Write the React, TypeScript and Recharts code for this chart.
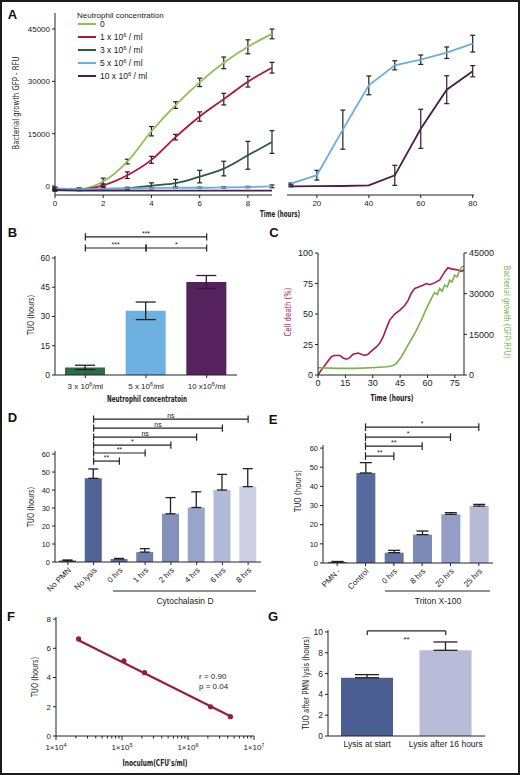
import type { ReactNode } from "react";
import {
  Bar,
  BarChart,
  Cell,
  ComposedChart,
  ErrorBar,
  Line,
  LineChart,
  ReferenceLine,
  Scatter,
  XAxis,
  YAxis,
} from "recharts";

const SANS = "'Liberation Sans', Arial, Helvetica, sans-serif";
const NARROW = "'Liberation Sans Narrow', 'DejaVu Sans Condensed', 'Liberation Sans', sans-serif";
const INK = "#222";

// A - bacterial growth (GFP RFU) per neutrophil concentration
const concLabels = ["0", "1 x 10^6 / ml", "3 x 10^6 / ml", "5 x 10^6 / ml", "10 x 10^6 / ml"];
const concColors = ["#8cc251", "#b3123e", "#2e5b3c", "#6aaee0", "#4b1a4f"];

const earlyHours = [0, 1, 2, 3, 4, 5, 6, 7, 8, 9];
const growthNone = [-800, -900, 1300, 7000, 15700, 23200, 29700, 35300, 39900, 43600];
const growthNoneErr = [300, 300, 950, 670, 1340, 950, 1200, 1670, 2000, 1400];
const growth1 = [-1000, -1000, 200, 3100, 7500, 14000, 19900, 24900, 29900, 33900];
const growth1Err = [300, 300, 400, 950, 1000, 800, 1340, 1670, 1530, 1530];
const growth3 = [-1000, -1000, -800, -660, 100, 800, 2700, 5000, 8800, 12600];
const growth3Err = [300, 300, 300, 300, 800, 1100, 1800, 2100, 4000, 3250];
const growth5 = [-700, -900, -800, -700, -600, -500, -500, -400, -300, -100];
const growth5Err = [400, 200, 200, 200, 200, 200, 200, 200, 200, 400];
const growth10 = [-1200, -1300, -1300, -1300, -1300, -1300, -1300, -1300, -1300, -1300];
const growth10Err = [300, 0, 0, 0, 0, 0, 0, 0, 0, 0];

const lateHours = [10, 20, 30, 40, 50, 60, 70, 80];
const late5 = [670, 3100, 16150, 28850, 34600, 36200, 38200, 40800];
const late5Err = [200, 1400, 5600, 2700, 1300, 1350, 1650, 2400];
const late10 = [-100, -50, 0, 200, 3060, 16400, 27600, 32900];
const late10Err = [150, 0, 0, 0, 2870, 5600, 4000, 1600];

// B - time until outgrowth
const bLabels = ["3 x 10^6/ml", "5 x 10^6/ml", "10 x10^6/ml"];
const bTuo = [3.9, 32.9, 47.7];
const bErr = [1.1, 4.5, 3.3];
const bColors = ["#2f6a49", "#6db0e2", "#55225d"];

// C - cell death vs bacterial growth over time
const deathHours = [0, 1.8, 4.5, 7.3, 9, 12, 13.7, 15.5, 17.3, 19.2, 22, 23.7, 25.6, 27.4, 29.2, 32, 33.8, 35.6, 37.4, 39.3, 42, 44.7, 47.5, 49.3, 51.1, 53, 54.8, 57.5, 59.4, 61.2, 63.9, 66.7, 69.4, 71.2, 73, 74.8, 76.7, 78.5, 80];
const deathPct = [0, 4, 9.5, 15, 16, 16, 14, 13, 14, 17, 18, 17, 16, 17, 19.6, 23, 26, 31, 38, 45, 50, 53, 57, 61, 67, 71, 72, 73.5, 75, 74, 75.5, 78, 84.5, 88, 87, 86.6, 86, 85, 86];
const gfpHours = [0, 11, 20, 29, 38, 41, 43, 45.7, 49.3, 53, 56.6, 59.4, 61.2, 63, 63.9, 65.4, 66.7, 68, 69.4, 70.9, 72.1, 73.4, 74.8, 76.3, 77.6, 78.9, 80];
const gfpRfu = [2700, 2450, 2450, 2700, 3070, 3430, 4300, 6750, 11000, 15300, 20200, 24500, 27000, 29400, 30400, 29700, 31900, 30900, 33100, 32500, 34900, 34300, 36800, 36200, 38600, 39900, 40200];
const deathColor = "#b0174a";
const gfpColor = "#78b347";

// D - cytochalasin D
const dLabels = ["No PMN", "No lysis", "0 hrs", "1 hrs", "2 hrs", "4 hrs", "6 hrs", "8 hrs"];
const dTuo = [0.8, 46.5, 1.7, 5.5, 26.8, 30.3, 40, 41.9];
const dErr = [0.3, 5.2, 0.3, 1.9, 9, 8.7, 8.7, 10];
const dColors = ["#3d4f80", "#4f6396", "#5a6d9f", "#6d7eaf", "#8392bd", "#98a4ca", "#b1bad8", "#cacfe5"];

// E - Triton X-100
const eLabels = ["PMN -", "Control", "0 hrs", "8 hrs", "20 hrs", "25 hrs"];
const eTuo = [0.5, 47, 5.4, 14.8, 25.4, 29.7];
const eErr = [0.3, 5.4, 1.2, 1.9, 0.9, 0.9];
const eColors = ["#3d4f80", "#566a9e", "#6475a6", "#7d8cb6", "#939dc6", "#b4bad8"];

// F - inoculum vs TUO
const inoculum = [2.2e4, 1.07e5, 2.2e5, 2.2e6, 4.4e6];
const fTuo = [6.64, 5.14, 4.33, 2.0, 1.32];
const fitInoculum = [2.2e4, 4.4e6];
const fitTuo = [6.55, 1.35];
const fColor = "#9b1b3b";

// G - lysis timing
const gLabels = ["Lysis at start", "Lysis after 16 hours"];
const gTuo = [5.6, 8.24];
const gErr = [0.3, 0.8];
const gColors = ["#4b5e91", "#b8bcd8"];

type Sig = { from: number; to: number; at: number; text: string };
const bSig: Sig[] = [
  { from: 0, to: 2, at: 70.8, text: "***" },
  { from: 0, to: 1, at: 65.1, text: "***" },
  { from: 1, to: 2, at: 65.1, text: "*" },
];
const dSig: Sig[] = [
  { from: 1, to: 2, at: 56.1, text: "**" },
  { from: 1, to: 3, at: 60.6, text: "**" },
  { from: 1, to: 4, at: 65, text: "*" },
  { from: 1, to: 5, at: 69.4, text: "ns" },
  { from: 1, to: 6, at: 74.4, text: "ns" },
  { from: 1, to: 7, at: 79.4, text: "ns" },
];
const eSig: Sig[] = [
  { from: 1, to: 2, at: 55.8, text: "**" },
  { from: 1, to: 3, at: 61, text: "**" },
  { from: 1, to: 4, at: 65.7, text: "*" },
  { from: 1, to: 5, at: 70.9, text: "*" },
];
const gSig: Sig[] = [{ from: 0, to: 1, at: 10.1, text: "**" }];

const earlyRows = earlyHours.map((h, i) => ({
  h,
  g0: growthNone[i], g0e: growthNoneErr[i],
  g1: growth1[i], g1e: growth1Err[i],
  g3: growth3[i], g3e: growth3Err[i],
  g5: growth5[i], g5e: growth5Err[i],
  g10: growth10[i], g10e: growth10Err[i],
}));
const lateRows = lateHours.map((h, i) => ({ h, g5: late5[i], g5e: late5Err[i], g10: late10[i], g10e: late10Err[i] }));
const earlyKeys = ["g0", "g1", "g3", "g5", "g10"];
const deathRows = deathHours.map((t, i) => ({ t, v: deathPct[i] }));
const gfpRows = gfpHours.map((t, i) => ({ t, v: gfpRfu[i] }));
const bRows = bLabels.map((name, i) => ({ name, v: bTuo[i], e: bErr[i] }));
const dRows = dLabels.map((name, i) => ({ name, v: dTuo[i], e: [0, dErr[i]] }));
const eRows = eLabels.map((name, i) => ({ name, v: eTuo[i], e: [0, eErr[i]] }));
const gRows = gLabels.map((name, i) => ({ name, v: gTuo[i], e: [0, gErr[i]] }));
const fPoints = inoculum.map((x, i) => ({ x, y: fTuo[i] }));
const fFit = fitInoculum.map((x, i) => ({ x, y: fitTuo[i] }));
const logTicks = [1e4, 1e5, 1e6].flatMap((d) => [1, 2, 3, 4, 5, 6, 7, 8, 9].map((m) => m * d)).concat([1e7]);

type Plot = { x0: number; x1: number; y0: number; y1: number };
type Pad = { l: number; r: number; t: number; b: number };

function box(p: Plot, pad: Pad) {
  return {
    pad,
    style: { position: "absolute" as const, left: p.x0 - pad.l, top: p.y0 - pad.t },
    width: p.x1 - p.x0 + pad.l + pad.r,
    height: p.y1 - p.y0 + pad.t + pad.b,
    margin: { top: pad.t, right: pad.r, bottom: 0, left: 0 },
  };
}

const axis = (fs: number) => ({
  stroke: INK,
  tickSize: 3,
  tickMargin: 2,
  tick: { fontSize: fs, fill: INK, fontFamily: SANS },
});

function sup(s: string) {
  const parts = s.split(/\^(\d)/);
  return parts.map((p, i) =>
    i % 2 ? (
      <tspan key={i} dy={-3} fontSize="70%">{p}</tspan>
    ) : (
      <tspan key={i} dy={i ? 3 : 0}>{p}</tspan>
    ),
  );
}

function SupTick(props: any) {
  const { x, y, payload } = props;
  return (
    <text x={x} y={y + 9} textAnchor="middle" fontSize={8} fill={INK} fontFamily={SANS}>
      {sup(payload.value)}
    </text>
  );
}

function SlantTick(props: any) {
  const { x, y, payload } = props;
  const ax = x + 2;
  const ay = y + 2;
  return (
    <text x={ax} y={ay} transform={`rotate(-45 ${ax} ${ay})`} textAnchor="end" dominantBaseline="central" fontSize={8} fill={INK} fontFamily={SANS}>
      {payload.value}
    </text>
  );
}

function LogTick(props: any) {
  const { x, y, payload } = props;
  const exp = Math.log10(payload.value);
  const major = Math.abs(exp - Math.round(exp)) < 1e-6;
  return (
    <g>
      <line x1={x} x2={x} y1={y} y2={y + (major ? 4 : 2.5)} stroke={INK} />
      {major && (
        <text x={x} y={y + 14} textAnchor="middle" fontSize={8} fill={INK} fontFamily={SANS}>
          {sup(`1×10^${Math.round(exp)}`)}
        </text>
      )}
    </g>
  );
}

function brackets(sig: Sig[], cats: string[], cap: number, fs: number, below = false): ReactNode[] {
  const line = { stroke: INK, strokeWidth: 1.2, ifOverflow: "visible" as const };
  return sig.flatMap((s, i) => {
    const a = cats[s.from];
    const b = cats[s.to];
    return [
      <ReferenceLine
        key={`h${i}`}
        segment={[{ x: a, y: s.at }, { x: b, y: s.at }]}
        {...line}
        label={{ value: s.text, position: below ? "bottom" : "top", offset: below ? 5 : 1, fontSize: fs, fill: INK, fontFamily: SANS }}
      />,
      <ReferenceLine key={`a${i}`} segment={[{ x: a, y: s.at - cap }, { x: a, y: s.at + (below ? 0 : cap) }]} {...line} />,
      <ReferenceLine key={`b${i}`} segment={[{ x: b, y: s.at - cap }, { x: b, y: s.at + (below ? 0 : cap) }]} {...line} />,
    ];
  });
}

function PanelA() {
  const L = box({ x0: 55, x1: 272, y0: 13, y1: 195 }, { l: 50, r: 4, t: 6, b: 22 });
  const R = box({ x0: 287, x1: 474, y0: 13, y1: 195 }, { l: 0, r: 8, t: 6, b: 22 });
  const yDomain = [-2580, 49586];
  const yTicks = [0, 15000, 30000, 45000];
  return (
    <>
      <div style={L.style}>
        <LineChart width={L.width} height={L.height} margin={L.margin} data={earlyRows}>
          <XAxis dataKey="h" type="number" domain={[0, 9]} ticks={[0, 2, 4, 6, 8]} height={L.pad.b} allowDataOverflow {...axis(8)} />
          <YAxis width={L.pad.l} domain={yDomain} ticks={yTicks} allowDataOverflow {...axis(8)} />
          {earlyKeys.map((k, i) => (
            <Line key={k} type="monotone" dataKey={k} stroke={concColors[i]} strokeWidth={1.8} dot={false} isAnimationActive={false}>
              <ErrorBar dataKey={`${k}e`} width={2.5} stroke={INK} strokeWidth={1.2} />
            </Line>
          ))}
        </LineChart>
      </div>
      <div style={R.style}>
        <LineChart width={R.width} height={R.height} margin={R.margin} data={lateRows}>
          <XAxis dataKey="h" type="number" domain={[8.5, 80.5]} ticks={[20, 40, 60, 80]} height={R.pad.b} allowDataOverflow {...axis(8)} />
          <YAxis hide domain={yDomain} allowDataOverflow />
          {["g5", "g10"].map((k, i) => (
            <Line key={k} type="linear" dataKey={k} stroke={concColors[3 + i]} strokeWidth={1.8} dot={false} isAnimationActive={false}>
              <ErrorBar dataKey={`${k}e`} width={2.5} stroke={INK} strokeWidth={1.2} />
            </Line>
          ))}
        </LineChart>
      </div>
    </>
  );
}

function PanelB() {
  const B = box({ x0: 55, x1: 237, y0: 256, y1: 375 }, { l: 50, r: 6, t: 30, b: 20 });
  return (
    <div style={B.style}>
      <BarChart width={B.width} height={B.height} margin={B.margin} data={bRows}>
        <XAxis dataKey="name" interval={0} height={B.pad.b} tick={<SupTick />} stroke={INK} tickSize={3} tickMargin={2} />
        <YAxis width={B.pad.l} domain={[0, 61]} ticks={[0, 15, 30, 45, 60]} allowDataOverflow {...axis(8.5)} />
        <Bar dataKey="v" barSize={40} isAnimationActive={false}>
          {bRows.map((r, i) => (
            <Cell key={r.name} fill={bColors[i]} />
          ))}
          <ErrorBar dataKey="e" width={10} stroke={INK} strokeWidth={1.3} />
        </Bar>
        {brackets(bSig, bLabels, 1.8, 7)}
      </BarChart>
    </div>
  );
}

function PanelC() {
  const C = box({ x0: 318, x1: 464, y0: 253, y1: 375 }, { l: 35, r: 40, t: 8, b: 20 });
  return (
    <div style={C.style}>
      <LineChart width={C.width} height={C.height} margin={{ ...C.margin, right: 0 }}>
        <XAxis dataKey="t" type="number" domain={[0, 80]} ticks={[0, 15, 30, 45, 60, 75]} height={C.pad.b} allowDataOverflow {...axis(9)} />
        <YAxis yAxisId="pct" width={C.pad.l} domain={[0, 100]} ticks={[0, 25, 50, 75, 100]} allowDataOverflow {...axis(9)} />
        <YAxis yAxisId="rfu" orientation="right" width={40} domain={[0, 45000]} ticks={[0, 15000, 30000, 45000]} allowDataOverflow {...axis(9)} />
        <Line yAxisId="pct" data={deathRows} dataKey="v" type="linear" stroke={deathColor} strokeWidth={1.6} dot={false} isAnimationActive={false} />
        <Line yAxisId="rfu" data={gfpRows} dataKey="v" type="linear" stroke={gfpColor} strokeWidth={1.6} dot={false} isAnimationActive={false} />
      </LineChart>
    </div>
  );
}

function TuoBars({ plot, pad, rows, labels, colors, sig, barSize, cap, yMax }: any) {
  const P = box(plot, pad);
  return (
    <div style={P.style}>
      <BarChart width={P.width} height={P.height} margin={P.margin} data={rows}>
        <XAxis dataKey="name" interval={0} height={P.pad.b} tick={<SlantTick />} stroke={INK} tickSize={3} tickMargin={2} />
        <YAxis width={P.pad.l} domain={[0, yMax]} ticks={[0, 10, 20, 30, 40, 50, 60]} allowDataOverflow {...axis(7.5)} />
        <Bar dataKey="v" barSize={barSize} isAnimationActive={false}>
          {rows.map((r: any, i: number) => (
            <Cell key={r.name} fill={colors[i]} />
          ))}
          <ErrorBar dataKey="e" width={cap} stroke={INK} strokeWidth={1.3} />
        </Bar>
        {brackets(sig, labels, 2, 7)}
      </BarChart>
    </div>
  );
}

function PanelF() {
  const F = box({ x0: 56, x1: 254, y0: 617, y1: 736 }, { l: 50, r: 10, t: 6, b: 20 });
  return (
    <div style={F.style}>
      <ComposedChart width={F.width} height={F.height} margin={F.margin}>
        <XAxis
          dataKey="x"
          type="number"
          scale="log"
          domain={[1e4, 1e7]}
          ticks={logTicks}
          interval={0}
          tickLine={false}
          tickSize={0}
          tickMargin={0}
          tick={<LogTick />}
          stroke={INK}
          height={F.pad.b}
          allowDataOverflow
        />
        <YAxis dataKey="y" type="number" width={F.pad.l} domain={[0, 8.14]} ticks={[0, 2, 4, 6, 8]} allowDataOverflow {...axis(8)} />
        <Line data={fFit} dataKey="y" type="linear" stroke={fColor} strokeWidth={2} dot={false} isAnimationActive={false} />
        <Scatter
          data={fPoints}
          dataKey="y"
          fill={fColor}
          isAnimationActive={false}
          shape={(p: any) => <circle cx={p.cx} cy={p.cy} r={2.6} fill={fColor} />}
        />
      </ComposedChart>
    </div>
  );
}

function PanelG() {
  const G = box({ x0: 328, x1: 485, y0: 630, y1: 736 }, { l: 30, r: 8, t: 8, b: 18 });
  return (
    <div style={G.style}>
      <BarChart width={G.width} height={G.height} margin={G.margin} data={gRows}>
        <XAxis dataKey="name" interval={0} height={G.pad.b} stroke={INK} tickSize={0} tickMargin={5} tick={{ fontSize: 8.5, fill: INK, fontFamily: SANS }} />
        <YAxis width={G.pad.l} domain={[0, 10.19]} ticks={[0, 2, 4, 6, 8, 10]} allowDataOverflow {...axis(8.5)} />
        <Bar dataKey="v" barSize={52} isAnimationActive={false}>
          {gRows.map((r, i) => (
            <Cell key={r.name} fill={gColors[i]} />
          ))}
          <ErrorBar dataKey="e" width={12} stroke={INK} strokeWidth={1.3} />
        </Bar>
        {brackets(gSig, gLabels, 0.4, 8, true)}
      </BarChart>
    </div>
  );
}

function Title({ x, y, len, rot = 0, fill = INK, bold = false, children }: any) {
  return (
    <text
      x={x}
      y={y}
      transform={rot ? `rotate(${rot} ${x} ${y})` : undefined}
      textAnchor="middle"
      dominantBaseline="central"
      fontFamily={NARROW}
      fontSize={9.5}
      fontWeight={bold ? "bold" : "normal"}
      fill={fill}
      textLength={len}
      lengthAdjust="spacingAndGlyphs"
    >
      {children}
    </text>
  );
}

function Overlay() {
  const letters: [string, number, number][] = [
    ["A", 12.5, 14], ["B", 12.5, 232], ["C", 274, 232], ["D", 12.5, 417],
    ["E", 273, 419], ["F", 11, 616], ["G", 273, 616],
  ];
  return (
    <svg width={520} height={775} style={{ position: "absolute", left: 0, top: 0, pointerEvents: "none" }}>
      {letters.map(([t, x, y]) => (
        <text key={t} x={x} y={y} textAnchor="middle" dominantBaseline="central" fontFamily={SANS} fontSize={13} fontWeight="bold" fill="#111">
          {t}
        </text>
      ))}

      <text x={77} y={15} dominantBaseline="central" fontFamily={SANS} fontSize={8} fill={INK}>
        Neutrophil concentration
      </text>
      {concLabels.map((c, i) => (
        <g key={c}>
          <line x1={78} x2={96} y1={24 + i * 13} y2={24 + i * 13} stroke={concColors[i]} strokeWidth={2} />
          <text x={100} y={27 + i * 13} fontFamily={SANS} fontSize={8.5} fill={INK}>
            {sup(c)}
          </text>
        </g>
      ))}

      <Title x={15} y={103} len={93} rot={-90}>Bacterial growth GFP - RFU</Title>
      <Title x={280} y={213} len={40} bold>Time (hours)</Title>
      <Title x={30} y={315} len={40} rot={-90}>TUO (hours)</Title>
      <Title x={147} y={398} len={80} bold>Neutrophil concentratoin</Title>
      <Title x={287} y={312} len={49} rot={-90} fill={deathColor}>Cell death (%)</Title>
      <Title x={507} y={312} len={93} rot={90} fill={gfpColor}>Bacterial growth (GFP-RFU)</Title>
      <Title x={392} y={397} len={43} bold>Time (hours)</Title>
      <Title x={30} y={507} len={40} rot={-90}>TUO (hours)</Title>
      <Title x={297} y={491} len={42} rot={-90}>TUO (hours)</Title>
      <Title x={34} y={677} len={40} rot={-90}>TUO (hours)</Title>
      <Title x={155} y={762} len={65} bold>Inoculum(CFU's/ml)</Title>
      <Title x={305} y={683} len={93} rot={-90}>TUO after PMN lysis (hours)</Title>

      <line x1={113} x2={256} y1={591} y2={591} stroke={INK} strokeWidth={1.2} />
      <text x={185} y={601} textAnchor="middle" dominantBaseline="central" fontFamily={SANS} fontSize={8.5} fill={INK}>
        Cytochalasin D
      </text>
      <line x1={385} x2={490} y1={591} y2={591} stroke={INK} strokeWidth={1.2} />
      <text x={438} y={601} textAnchor="middle" dominantBaseline="central" fontFamily={SANS} fontSize={8.5} fill={INK}>
        Triton X-100
      </text>

      <text x={199} y={676} dominantBaseline="central" fontFamily={SANS} fontSize={8} fill={INK}>r  = 0.90</text>
      <text x={199} y={686} dominantBaseline="central" fontFamily={SANS} fontSize={8} fill={INK}>p = 0.04</text>
    </svg>
  );
}

export default function App() {
  return (
    <div style={{ position: "absolute", left: 0, top: 0, width: 520, height: 775, background: "#fff", overflow: "hidden", fontFamily: SANS }}>
      <PanelA />
      <PanelB />
      <PanelC />
      <TuoBars
        plot={{ x0: 55, x1: 261, y0: 451, y1: 562 }}
        pad={{ l: 50, r: 8, t: 45, b: 34 }}
        rows={dRows}
        labels={dLabels}
        colors={dColors}
        sig={dSig}
        barSize={17}
        cap={5}
        yMax={61.7}
      />
      <TuoBars
        plot={{ x0: 323, x1: 493, y0: 445, y1: 563 }}
        pad={{ l: 30, r: 8, t: 30, b: 34 }}
        rows={eRows}
        labels={eLabels}
        colors={eColors}
        sig={eSig}
        barSize={19}
        cap={6}
        yMax={61.6}
      />
      <PanelF />
      <PanelG />
      <Overlay />
      <div style={{ position: "absolute", left: 0, top: 0, width: 520, height: 775, border: "2px solid #1b1b1b", boxSizing: "border-box", pointerEvents: "none" }} />
    </div>
  );
}
